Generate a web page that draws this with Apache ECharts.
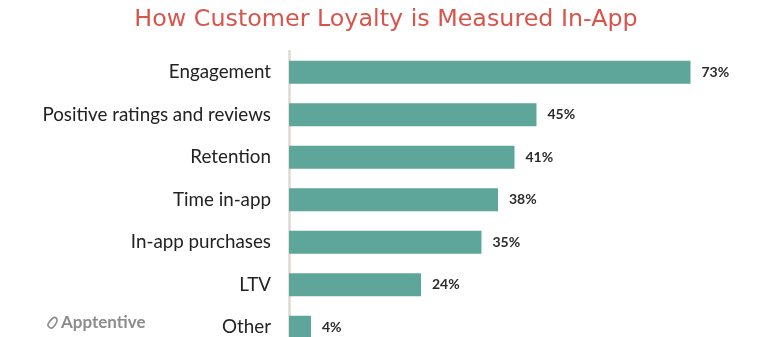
<!DOCTYPE html>
<html><head><meta charset="utf-8">
<script src="https://cdn.jsdelivr.net/npm/echarts@6/dist/echarts.min.js"></script>
<style>html,body{margin:0;padding:0;background:#fff}#c{width:772px;height:337px}</style>
</head><body><div id="c"></div>
<script>
const categories = ["Engagement","Positive ratings and reviews","Retention","Time in-app","In-app purchases","LTV","Other"];
const values = [73,45,41,38,35,24,4];
const titleText = "How Customer Loyalty is Measured In-App";

const chart = echarts.init(document.getElementById('c'));
chart.setOption({
  animation:false,
  title:{text:titleText,left:'center',top:3,textStyle:{fontFamily:'DejaVu Sans',fontWeight:'normal',fontSize:23.8,color:'#d9544b'}},
  grid:{left:289,width:440,top:51,height:297.5,containLabel:false,outerBoundsMode:'none'},
  xAxis:{type:'value',min:0,max:80,show:false},
  yAxis:{type:'category',data:categories,inverse:true,
    axisLine:{show:true,lineStyle:{color:'#dcd9d5',width:2.5}},
    axisTick:{show:false},
    axisLabel:{margin:18,fontFamily:'Lato',fontSize:18.8,color:'#222'}},
  series:[{type:'bar',data:values,barWidth:23,itemStyle:{color:'#5fa69a'},
    label:{show:true,position:'right',distance:11,formatter:p=>p.value+'%',fontFamily:'Lato',fontWeight:'bold',fontSize:14,color:'#2b2b2b'}}],
  graphic:[
    {type:'text',left:61,top:314,style:{text:'Apptentive',fontFamily:'Lato',fontWeight:'bold',fontSize:17,fill:'#8c8c8c'}},
    {type:'polygon',shape:{points:[[48,324],[53,318],[56,318],[57,321],[55,325],[52,328],[49,327]],smooth:0.4},style:{fill:'none',stroke:'#8c8c8c',lineWidth:1.6}}
  ]
});
</script></body></html>
